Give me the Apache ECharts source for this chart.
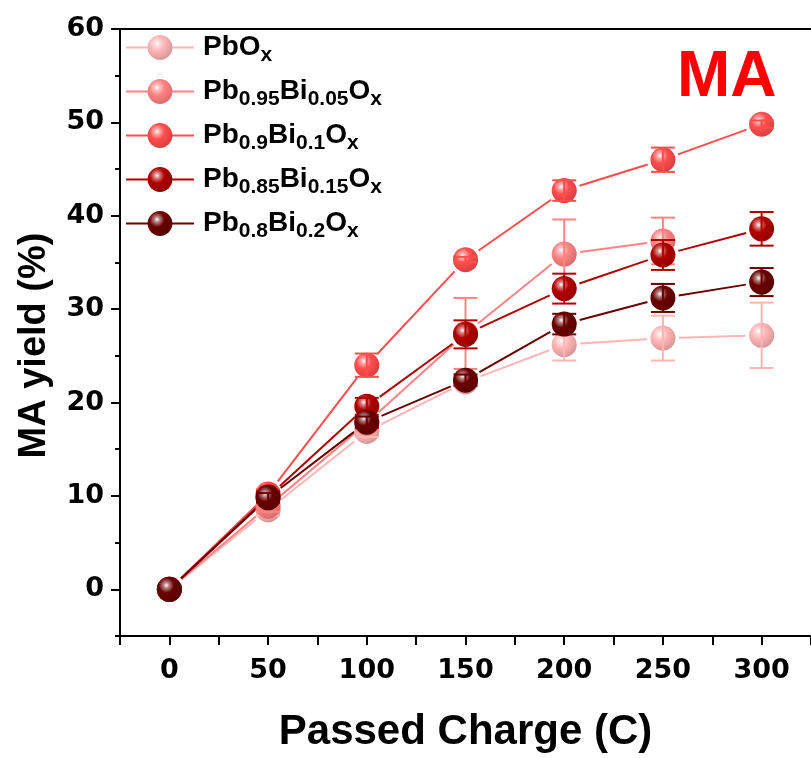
<!DOCTYPE html>
<html>
<head>
<meta charset="utf-8">
<script src="https://cdn.jsdelivr.net/npm/echarts@6/dist/echarts.min.js"></script>
<style>
  html, body { margin: 0; padding: 0; background: #ffffff; }
  #chart { width: 811px; height: 758px; }
</style>
</head>
<body>
<div id="chart"></div>
<script>
// Passed charge (C) at each sampling point
const charge = [0, 50, 100, 150, 200, 250, 300];

// Catalyst names (series names) and their legend labels with subscripts
const catalysts = ['PbOx', 'Pb0.95Bi0.05Ox', 'Pb0.9Bi0.1Ox', 'Pb0.85Bi0.15Ox', 'Pb0.8Bi0.2Ox'];
const legendLabels = [
  '{m|PbO}{s|x}',
  '{m|Pb}{s|0.95}{m|Bi}{s|0.05}{m|O}{s|x}',
  '{m|Pb}{s|0.9}{m|Bi}{s|0.1}{m|O}{s|x}',
  '{m|Pb}{s|0.85}{m|Bi}{s|0.15}{m|O}{s|x}',
  '{m|Pb}{s|0.8}{m|Bi}{s|0.2}{m|O}{s|x}'
];

// MA yield (%) and standard deviation for each catalyst
const yieldPbO      = [0, 8.5, 16.9, 22.2, 26.2, 26.9, 27.2];
const errPbO        = [0, 0.6, 0.6, 0.5, 1.7, 2.4, 3.5];
const yieldPb95Bi05 = [0, 8.9, 17.8, 27.4, 35.9, 37.3, null];
const errPb95Bi05   = [0, 0.6, 0.7, 3.8, 3.7, 2.5, null];
const yieldPb90Bi10 = [0, 10.2, 24.0, 35.3, 42.7, 46.0, 49.8];
const errPb90Bi10   = [0, 0.5, 1.25, 0.3, 1.1, 1.3, 0.4];
const yieldPb85Bi15 = [0, 9.9, 19.6, 27.3, 32.2, 35.8, 38.6];
const errPb85Bi15   = [0, 0.6, 0.9, 1.5, 1.6, 1.6, 1.8];
const yieldPb80Bi20 = [0, 9.8, 17.9, 22.4, 28.4, 31.2, 32.9];
const errPb80Bi20   = [0, 0.5, 0.6, 0.6, 1.1, 1.5, 1.5];

// Axis ticks
const xTickLabels = [0, 50, 100, 150, 200, 250, 300];
const yTickLabels = [0, 10, 20, 30, 40, 50, 60];
const yMinorTicks = [-5, 5, 15, 25, 35, 45, 55];

const yields = [yieldPbO, yieldPb95Bi05, yieldPb90Bi10, yieldPb85Bi15, yieldPb80Bi20];
const errors = [errPbO, errPb95Bi05, errPb90Bi10, errPb85Bi15, errPb80Bi20];
const colors = ['#FFB5B5', '#FF8383', '#FF4D4D', '#B00000', '#6A0000'];

function hexToRgb(h) {
  return [parseInt(h.slice(1, 3), 16), parseInt(h.slice(3, 5), 16), parseInt(h.slice(5, 7), 16)];
}
function mix(h, target, t) {
  const a = hexToRgb(h), b = hexToRgb(target);
  const c = a.map((v, i) => Math.round(v + (b[i] - v) * t));
  return 'rgb(' + c.join(',') + ')';
}
// Glossy sphere fill
function sphere(base) {
  return {
    type: 'radial', x: 0.38, y: 0.34, r: 0.72,
    colorStops: [
      { offset: 0, color: '#ffffff' },
      { offset: 0.14, color: mix(base, '#ffffff', 0.55) },
      { offset: 0.42, color: base },
      { offset: 1, color: mix(base, '#000000', 0.18) }
    ]
  };
}

const MARKER = 25;       // marker diameter in px
const LINE_GAP = 16;     // connecting lines stop this far from a marker centre
const CAP_HALF = 12;     // half width of an error-bar cap

const series = [];

// Connecting segments (stop short of each marker)
yields.forEach((ys, k) => {
  const segs = [];
  for (let i = 0; i < charge.length - 1; i++) {
    if (ys[i] == null || ys[i + 1] == null) continue;
    segs.push([charge[i], ys[i], charge[i + 1], ys[i + 1]]);
  }
  series.push({
    type: 'custom',
    name: catalysts[k] + ' line',
    z: 1,
    silent: true,
    encode: { x: [0, 2], y: [1, 3] },
    data: segs,
    renderItem: function (params, api) {
      const p0 = api.coord([api.value(0), api.value(1)]);
      const p1 = api.coord([api.value(2), api.value(3)]);
      const dx = p1[0] - p0[0], dy = p1[1] - p0[1];
      const d = Math.sqrt(dx * dx + dy * dy);
      if (d <= 2 * LINE_GAP) return null;
      const ux = dx / d, uy = dy / d;
      return {
        type: 'line',
        shape: {
          x1: p0[0] + ux * LINE_GAP, y1: p0[1] + uy * LINE_GAP,
          x2: p1[0] - ux * LINE_GAP, y2: p1[1] - uy * LINE_GAP
        },
        style: { stroke: colors[k], lineWidth: 2 }
      };
    }
  });
});

// Markers and error bars, later catalysts drawn on top
yields.forEach((ys, k) => {
  series.push({
    type: 'line',
    name: catalysts[k],
    z: 10 + 2 * k,
    data: charge.map((c, i) => (ys[i] == null ? null : [c, ys[i]])).filter(Boolean),
    symbol: 'circle',
    symbolSize: MARKER,
    showSymbol: true,
    itemStyle: { color: sphere(colors[k]) },
    lineStyle: { color: colors[k], width: 2, opacity: 0 },
    emphasis: { disabled: true },
    animation: false
  });
  const errs = errors[k];
  series.push({
    type: 'custom',
    name: catalysts[k] + ' error',
    z: 11 + 2 * k,
    silent: true,
    data: charge.map((c, i) => [c, ys[i], errs[i]]).filter(r => r[1] != null && r[2] > 0),
    renderItem: function (params, api) {
      const x = api.value(0), y = api.value(1), e = api.value(2);
      const top = api.coord([x, y + e]);
      const bot = api.coord([x, y - e]);
      const style = { stroke: colors[k], lineWidth: 2 };
      return {
        type: 'group',
        children: [
          { type: 'line', shape: { x1: top[0], y1: top[1], x2: bot[0], y2: bot[1] }, style: style },
          { type: 'line', shape: { x1: top[0] - CAP_HALF, y1: top[1], x2: top[0] + CAP_HALF, y2: top[1] }, style: style },
          { type: 'line', shape: { x1: bot[0] - CAP_HALF, y1: bot[1], x2: bot[0] + CAP_HALF, y2: bot[1] }, style: style }
        ]
      };
    }
  });
});

const tickFont = { fontFamily: 'DejaVu Sans', fontWeight: 'bold', fontSize: 27, color: '#000' };

const option = {
  animation: false,
  backgroundColor: '#ffffff',
  grid: { left: 120, right: 0, top: 29, bottom: 120, containLabel: false },
  xAxis: [
    {
      type: 'value', min: -25, max: 325, interval: 25,
      axisLine: { show: true, onZero: false, lineStyle: { color: '#000', width: 2 } },
      axisTick: { show: true, inside: false, length: 9, lineStyle: { color: '#000', width: 2 } },
      axisLabel: Object.assign({
        margin: 21,
        customValues: xTickLabels,
        formatter: v => String(v)
      }, tickFont),
      splitLine: { show: false },
      name: 'Passed Charge (C)',
      nameLocation: 'middle',
      nameGap: 75,
      nameTextStyle: { fontFamily: 'Liberation Sans', fontWeight: 'bold', fontSize: 42, color: '#000' }
    },
    {
      type: 'value', position: 'top', min: -25, max: 325,
      axisLine: { show: true, onZero: false, lineStyle: { color: '#000', width: 2 } },
      axisTick: { show: false }, axisLabel: { show: false }, splitLine: { show: false }
    }
  ],
  yAxis: [
    {
      type: 'value', min: -5, max: 60, interval: 5, position: 'left',
      axisLine: { show: true, onZero: false, lineStyle: { color: '#000', width: 2 } },
      axisTick: { show: true, length: 9, customValues: yTickLabels, lineStyle: { color: '#000', width: 2 } },
      axisLabel: Object.assign({ margin: 16, customValues: yTickLabels, formatter: v => String(v) }, tickFont),
      splitLine: { show: false },
      name: 'MA yield (%)',
      nameLocation: 'middle',
      nameGap: 66,
      nameTextStyle: {
        fontFamily: 'Liberation Sans', fontWeight: 'bold', fontSize: 38, color: '#000',
        padding: [0, 26, 0, 0]
      }
    },
    {
      type: 'value', min: -5, max: 60, interval: 5, position: 'left',
      axisLine: { show: false, onZero: false },
      axisTick: { show: true, length: 5, customValues: yMinorTicks, lineStyle: { color: '#000', width: 2 } },
      axisLabel: { show: false }, splitLine: { show: false }
    }
  ],
  legend: {
    orient: 'vertical',
    left: 120, top: 24,
    itemWidth: 68, itemHeight: 31, itemGap: 7,
    selectedMode: false,
    data: catalysts.map((n, k) => ({ name: n, lineStyle: { color: colors[k], width: 2, opacity: 1 } })),
    formatter: name => legendLabels[catalysts.indexOf(name)],
    textStyle: {
      padding: [0, 0, 0, 4],
      rich: {
        m: { fontFamily: 'Liberation Sans', fontWeight: 'bold', fontSize: 28, color: '#000', lineHeight: 31, verticalAlign: 'middle' },
        s: { fontFamily: 'Liberation Sans', fontWeight: 'bold', fontSize: 21, color: '#000', lineHeight: 15, padding: [16, 0, 0, 0], verticalAlign: 'middle' }
      }
    }
  },
  graphic: [
    {
      type: 'text', left: 677, top: 46, silent: true, z: 100,
      style: { text: 'MA', fill: '#FF0000', font: 'bold 64px "Liberation Sans", Arial, sans-serif' }
    }
  ],
  series: series
};

const chart = echarts.init(document.getElementById('chart'), null, { renderer: 'canvas' });
chart.setOption(option);
</script>
</body>
</html>
